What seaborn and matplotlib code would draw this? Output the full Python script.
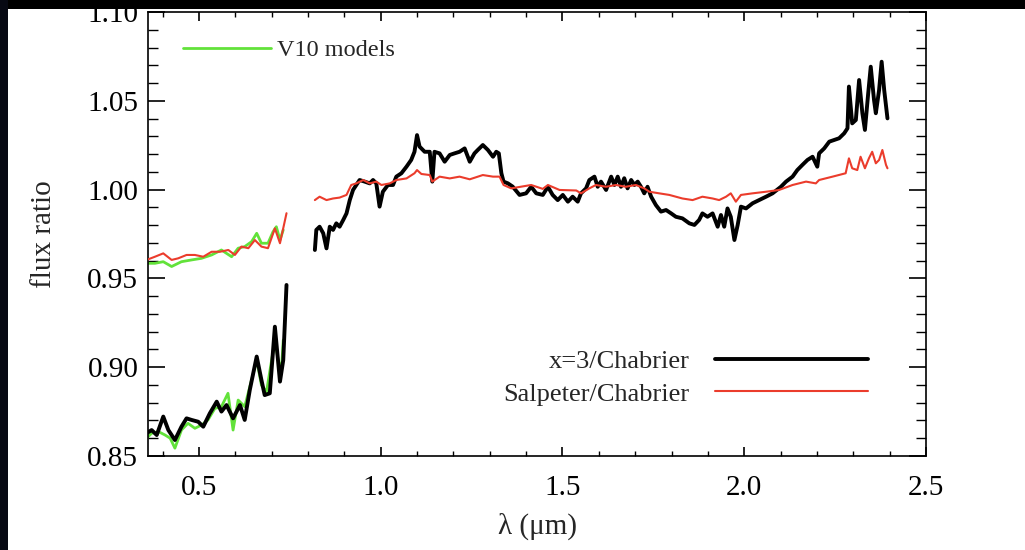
import numpy as np
import pandas as pd
import matplotlib
matplotlib.use('Agg')
import matplotlib.pyplot as plt
import seaborn as sns
from matplotlib.lines import Line2D
from matplotlib.patches import Rectangle
from matplotlib.ticker import MultipleLocator, FormatStrFormatter

# ---------------- data ----------------
# optical segment, x=3 / Chabrier
opt_wave_x3 = [0.356, 0.370, 0.384, 0.402, 0.416, 0.434, 0.452, 0.466, 0.480, 0.498,
               0.512, 0.530, 0.549, 0.562, 0.576, 0.594, 0.613, 0.626, 0.640, 0.659,
               0.672, 0.681, 0.695, 0.709, 0.723, 0.732, 0.741]
opt_x3 = [0.8628, 0.8646, 0.8618, 0.8722, 0.8646, 0.8590, 0.8665, 0.8712, 0.8703, 0.8693,
          0.8665, 0.8740, 0.8806, 0.8750, 0.8787, 0.8712, 0.8787, 0.8703, 0.8872, 0.9060,
          0.8928, 0.8843, 0.8853, 0.9228, 0.8919, 0.9040, 0.9463]

# optical segment, V10 model for x=3
opt_wave_v10x3 = [0.356, 0.370, 0.389, 0.407, 0.421, 0.434, 0.452, 0.470, 0.489, 0.507,
                  0.525, 0.544, 0.562, 0.580, 0.594, 0.608, 0.626, 0.640, 0.659, 0.672,
                  0.686, 0.709, 0.718, 0.727, 0.732]
opt_v10x3 = [0.8600, 0.8628, 0.8637, 0.8618, 0.8600, 0.8544, 0.8646, 0.8684, 0.8656, 0.8674,
             0.8703, 0.8768, 0.8778, 0.8853, 0.8646, 0.8815, 0.8778, 0.8890, 0.9040, 0.8899,
             0.8862, 0.9153, 0.9040, 0.8984, 0.9153]

# optical segment, Salpeter / Chabrier
opt_wave_salp = [0.356, 0.379, 0.402, 0.425, 0.443, 0.466, 0.489, 0.512, 0.535, 0.558,
                 0.581, 0.599, 0.617, 0.636, 0.654, 0.672, 0.690, 0.709, 0.723, 0.741]
opt_salp = [0.9604, 0.9622, 0.9641, 0.9604, 0.9613, 0.9632, 0.9632, 0.9622, 0.9650, 0.9650,
            0.9660, 0.9632, 0.9679, 0.9670, 0.9716, 0.9679, 0.9670, 0.9782, 0.9698, 0.9867]

# optical segment, V10 model for Salpeter
opt_wave_v10salp = [0.356, 0.379, 0.402, 0.425, 0.452, 0.480, 0.507, 0.535, 0.562, 0.590,
                    0.608, 0.626, 0.645, 0.659, 0.672, 0.690, 0.704, 0.713, 0.723, 0.732]
opt_v10salp = [0.9585, 0.9585, 0.9594, 0.9567, 0.9594, 0.9604, 0.9613, 0.9632, 0.9660, 0.9622,
               0.9670, 0.9679, 0.9707, 0.9754, 0.9698, 0.9698, 0.9763, 0.9791, 0.9716, 0.9773]

# near-IR segment, x=3 / Chabrier
nir_wave_x3 = [0.819, 0.823, 0.832, 0.842, 0.851, 0.860, 0.869, 0.878, 0.887, 0.897,
               0.906, 0.915, 0.924, 0.933, 0.942, 0.956, 0.970, 0.979, 0.988, 0.997,
               1.006, 1.020, 1.034, 1.043, 1.057, 1.071, 1.084, 1.093, 1.100, 1.107,
               1.121, 1.135, 1.142, 1.148, 1.162, 1.176, 1.190, 1.203, 1.217, 1.231,
               1.245, 1.258, 1.267, 1.281, 1.295, 1.309, 1.318, 1.325, 1.332, 1.338,
               1.350, 1.363, 1.382, 1.400, 1.414, 1.428, 1.446, 1.460, 1.473, 1.487,
               1.501, 1.515, 1.528, 1.542, 1.551, 1.565, 1.574, 1.588, 1.597, 1.606,
               1.620, 1.634, 1.643, 1.652, 1.661, 1.670, 1.679, 1.689, 1.698, 1.707,
               1.716, 1.725, 1.734, 1.744, 1.757, 1.771, 1.785, 1.799, 1.812, 1.830,
               1.849, 1.863, 1.876, 1.885, 1.899, 1.913, 1.927, 1.936, 1.945, 1.954,
               1.963, 1.973, 1.982, 1.991, 2.005, 2.023, 2.041, 2.060, 2.078, 2.101,
               2.115, 2.133, 2.146, 2.160, 2.174, 2.188, 2.201, 2.206, 2.220, 2.234,
               2.247, 2.261, 2.275, 2.284, 2.288, 2.297, 2.307, 2.316, 2.325, 2.332,
               2.341, 2.348, 2.357, 2.362, 2.371, 2.378, 2.385, 2.394]
nir_x3 = [0.9660, 0.9773, 0.9791, 0.9754, 0.9669, 0.9791, 0.9773, 0.9810, 0.9791, 0.9829,
          0.9866, 0.9941, 0.9998, 1.0026, 1.0054, 1.0045, 1.0035, 1.0054, 1.0035, 0.9904,
          0.9988, 1.0026, 1.0026, 1.0073, 1.0092, 1.0129, 1.0167, 1.0213, 1.0307, 1.0242,
          1.0213, 1.0213, 1.0045, 1.0213, 1.0204, 1.0157, 1.0195, 1.0204, 1.0213, 1.0232,
          1.0157, 1.0204, 1.0223, 1.0251, 1.0223, 1.0185, 1.0213, 1.0204, 1.0092, 1.0045,
          1.0035, 1.0017, 0.9970, 0.9979, 1.0016, 0.9979, 0.9970, 1.0016, 0.9970, 0.9941,
          0.9970, 0.9932, 0.9960, 0.9932, 0.9979, 1.0007, 1.0054, 1.0073, 1.0016, 1.0045,
          0.9998, 1.0073, 1.0026, 1.0073, 1.0016, 1.0064, 1.0007, 1.0054, 1.0026, 1.0045,
          1.0016, 0.9979, 1.0016, 0.9960, 0.9913, 0.9876, 0.9885, 0.9866, 0.9847, 0.9838,
          0.9810, 0.9801, 0.9829, 0.9866, 0.9847, 0.9866, 0.9791, 0.9857, 0.9791, 0.9894,
          0.9847, 0.9716, 0.9801, 0.9904, 0.9894, 0.9923, 0.9941, 0.9960, 0.9979, 1.0016,
          1.0045, 1.0073, 1.0110, 1.0139, 1.0167, 1.0185, 1.0129, 1.0204, 1.0232, 1.0270,
          1.0279, 1.0289, 1.0317, 1.0345, 1.0580, 1.0373, 1.0392, 1.0617, 1.0430, 1.0336,
          1.0542, 1.0692, 1.0505, 1.0430, 1.0561, 1.0720, 1.0561, 1.0401]

# near-IR segment, Salpeter / Chabrier
nir_wave_salp = [0.819, 0.832, 0.851, 0.869, 0.887, 0.906, 0.919, 0.933, 0.952, 0.970,
                 0.988, 1.002, 1.025, 1.043, 1.071, 1.093, 1.100, 1.112, 1.135, 1.142,
                 1.162, 1.190, 1.217, 1.245, 1.281, 1.309, 1.327, 1.338, 1.359, 1.414,
                 1.446, 1.460, 1.492, 1.538, 1.551, 1.574, 1.592, 1.620, 1.647, 1.674,
                 1.702, 1.725, 1.739, 1.766, 1.794, 1.830, 1.858, 1.885, 1.913, 1.931,
                 1.950, 1.963, 1.977, 1.991, 2.023, 2.060, 2.096, 2.133, 2.170, 2.197,
                 2.206, 2.243, 2.279, 2.288, 2.297, 2.311, 2.320, 2.332, 2.343, 2.352,
                 2.362, 2.371, 2.380, 2.390, 2.394]
nir_salp = [0.9941, 0.9960, 0.9941, 0.9950, 0.9955, 0.9970, 1.0026, 1.0035, 1.0054, 1.0035,
            1.0045, 1.0026, 1.0035, 1.0054, 1.0063, 1.0092, 1.0110, 1.0088, 1.0082, 1.0045,
            1.0073, 1.0063, 1.0073, 1.0058, 1.0082, 1.0073, 1.0073, 1.0026, 1.0007, 1.0026,
            1.0004, 1.0026, 0.9998, 0.9995, 0.9979, 1.0007, 1.0026, 1.0016, 1.0026, 1.0016,
            1.0026, 1.0007, 0.9988, 0.9979, 0.9970, 0.9950, 0.9941, 0.9960, 0.9950, 0.9941,
            0.9960, 0.9979, 0.9932, 0.9970, 0.9979, 0.9988, 0.9998, 1.0026, 1.0045, 1.0035,
            1.0054, 1.0073, 1.0092, 1.0176, 1.0120, 1.0110, 1.0185, 1.0120, 1.0176, 1.0213,
            1.0148, 1.0167, 1.0223, 1.0139, 1.0120]

x_ticks = [0.5, 1.0, 1.5, 2.0, 2.5]
y_ticks = [0.85, 0.90, 0.95, 1.00, 1.05, 1.10]
label_x3 = 'x=3/Chabrier'
label_salp = 'Salpeter/Chabrier'
label_v10 = 'V10 models'

# ---------------- style ----------------
sns.set_style('ticks')
plt.rcParams['font.family'] = ['Liberation Serif', 'DejaVu Serif']
plt.rcParams['axes.linewidth'] = 1.2

RED = '#eb3c2c'
GREEN = '#62e23a'
BLACK = '#000000'

fig = plt.figure(figsize=(10.25, 5.5), dpi=100)
fig.patch.set_facecolor('white')
# dark borders of the screenshot
fig.patches.append(Rectangle((0, 1 - 9 / 550), 1, 9 / 550, transform=fig.transFigure,
                             facecolor='#000000', edgecolor='none', zorder=-1))
fig.patches.append(Rectangle((0, 0), 8 / 1025, 1, transform=fig.transFigure,
                             facecolor='#070913', edgecolor='none', zorder=-1))

ax = fig.add_axes([148 / 1025, 1 - 456 / 550, 778 / 1025, 444 / 550])

def draw(xs, ys, color, lw, z):
    sns.lineplot(x=xs, y=ys, ax=ax, color=color, linewidth=lw, sort=False,
                 estimator=None, legend=False, zorder=z)

draw(opt_wave_v10x3, opt_v10x3, GREEN, 2.0, 2)
draw(opt_wave_x3, opt_x3, BLACK, 2.8, 3)
draw(opt_wave_v10salp, opt_v10salp, GREEN, 2.0, 2)
draw(opt_wave_salp, opt_salp, RED, 1.5, 3)
draw(nir_wave_x3, nir_x3, BLACK, 2.8, 3)
draw(nir_wave_salp, nir_salp, RED, 1.5, 4)

ax.set_xlim(0.36, 2.5)
ax.set_ylim(0.85, 1.10)
ax.set_xticks(x_ticks)
ax.set_yticks(y_ticks)
ax.xaxis.set_minor_locator(MultipleLocator(0.1))
ax.yaxis.set_minor_locator(MultipleLocator(0.01))
ax.xaxis.set_major_formatter(FormatStrFormatter('%.1f'))
ax.yaxis.set_major_formatter(FormatStrFormatter('%.2f'))
ax.tick_params(axis='both', which='both', direction='in', top=True, right=True,
               color='black', labelcolor='black', labelsize=21)
ax.tick_params(axis='x', which='major', length=6.5, width=1.2, pad=14)
ax.tick_params(axis='x', which='minor', length=3.5, width=1.0)
ax.tick_params(axis='y', which='major', length=12, width=1.2, pad=7)
ax.tick_params(axis='y', which='minor', length=7, width=1.0)
for s in ax.spines.values():
    s.set_color('black')

ax.set_xlabel('λ (μm)', fontsize=21, labelpad=8)
ax.set_ylabel('flux ratio', fontsize=21, labelpad=22)

leg1 = ax.legend(handles=[Line2D([], [], color=BLACK, lw=2.8), Line2D([], [], color=RED, lw=1.5)],
                 labels=[label_x3, label_salp], loc='center right',
                 bbox_to_anchor=(0.925, 0.177), markerfirst=False, frameon=False,
                 handlelength=5.8, handletextpad=0.95, borderpad=0, borderaxespad=0,
                 labelspacing=0.35, fontsize=19)
ax.add_artist(leg1)
ax.legend(handles=[Line2D([], [], color=GREEN, lw=2.0)], labels=[label_v10],
          loc='center left', bbox_to_anchor=(0.045, 0.914), frameon=False,
          handlelength=3.6, handletextpad=0.25, borderpad=0, borderaxespad=0,
          fontsize=17.5)

fig.savefig('out.png', dpi=100, facecolor='white')
